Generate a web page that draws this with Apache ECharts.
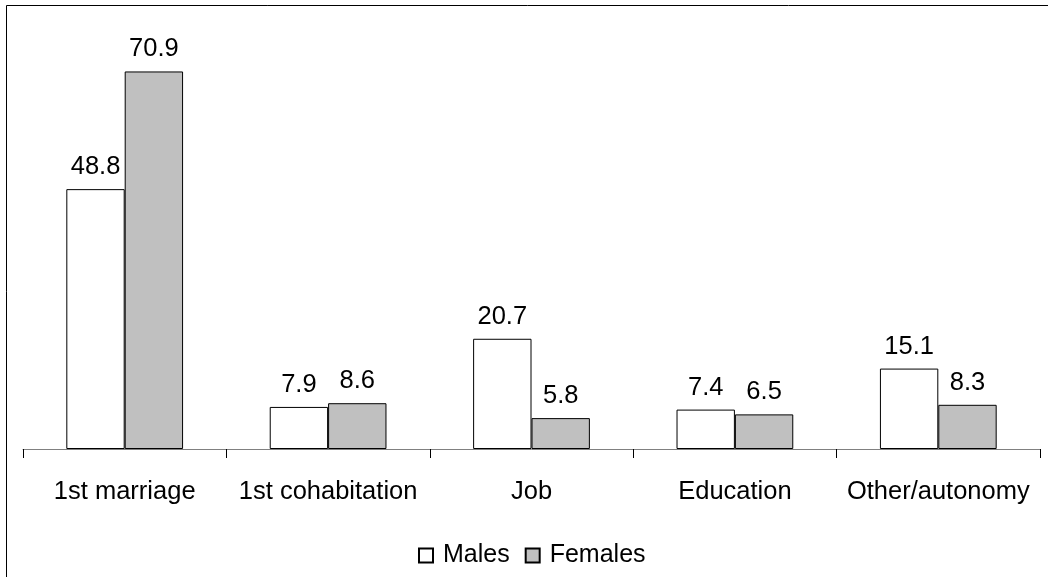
<!DOCTYPE html>
<html>
<head>
<meta charset="utf-8">
<script src="https://cdn.jsdelivr.net/npm/echarts@6/dist/echarts.min.js"></script>
<style>
  html, body { margin: 0; padding: 0; background: #fff; }
  #chart { width: 1048px; height: 577px; }
</style>
</head>
<body>
<div id="chart"></div>
<script>
// Reasons for leaving the parental home, by sex (%)
const categories = ['1st marriage', '1st cohabitation', 'Job', 'Education', 'Other/autonomy'];
const males = [48.8, 7.9, 20.7, 7.4, 15.1];
const females = [70.9, 8.6, 5.8, 6.5, 8.3];
const seriesNames = ['Males', 'Females'];

const FONT = 'Liberation Sans, Arial, sans-serif';
const chart = echarts.init(document.getElementById('chart'), null, { renderer: 'canvas' });

const labelStyle = {
  show: true,
  position: 'top',
  distance: 9,
  color: '#000',
  fontFamily: FONT,
  fontSize: 25.5,
  formatter: p => p.value.toFixed(1)
};

chart.setOption({
  animation: false,
  backgroundColor: '#fff',
  graphic: [{
    type: 'rect',
    silent: true,
    shape: { x: 6.5, y: 5.5, width: 1200, height: 800 },
    style: { fill: 'none', stroke: '#000', lineWidth: 1 }
  }],
  legend: {
    bottom: 4,
    left: 413,
    itemWidth: 14,
    itemHeight: 14,
    itemGap: 15,
    icon: 'rect',
    textStyle: { fontFamily: FONT, fontSize: 25, color: '#000', padding: [0, 0, 0, 5] },
    data: seriesNames
  },
  grid: { left: 23, right: 8, top: 23, bottom: 128 },
  xAxis: {
    type: 'category',
    data: categories,
    axisLine: { show: true, lineStyle: { color: '#808080', width: 1 } },
    axisTick: { show: true, alignWithLabel: false, interval: 0, length: 9, lineStyle: { color: '#000', width: 1 } },
    axisLabel: { margin: 30, color: '#000', fontFamily: FONT, fontSize: 25.5, interval: 0 }
  },
  yAxis: {
    type: 'value',
    min: 0,
    max: 80,
    show: false
  },
  series: [
    {
      name: seriesNames[0],
      type: 'bar',
      data: males,
      barGap: '0%',
      barCategoryGap: '42.6%',
      itemStyle: { color: '#ffffff', borderColor: '#000', borderWidth: 1 },
      label: labelStyle
    },
    {
      name: seriesNames[1],
      type: 'bar',
      data: females,
      itemStyle: { color: '#c0c0c0', borderColor: '#000', borderWidth: 1 },
      label: labelStyle
    }
  ]
});
</script>
</body>
</html>
